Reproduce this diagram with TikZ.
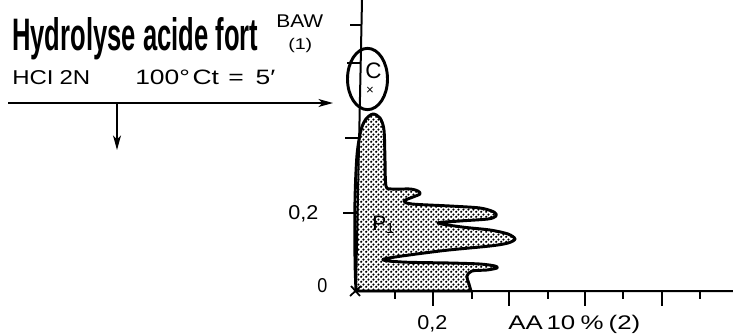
\documentclass[tikz,border=0pt]{standalone}
\usepackage{fontspec}
\setmainfont{Liberation Sans}
\usetikzlibrary{arrows.meta,patterns,shapes.geometric}
\pgfdeclarepatternformonly{blobdots}{\pgfqpoint{0pt}{0pt}}{\pgfqpoint{3.6pt}{3.6pt}}{\pgfqpoint{3.6pt}{3.6pt}}{%
  \pgfpathcircle{\pgfqpoint{0.9pt}{0.9pt}}{0.95pt}%
  \pgfpathcircle{\pgfqpoint{2.7pt}{2.7pt}}{0.95pt}%
  \pgfusepath{fill}}
\tikzset{
  arr/.style={line width=1.1pt,-{Stealth[length=11pt,width=6pt,inset=3pt]}},
  axisline/.style={line width=1.5pt},
  tickline/.style={line width=1.3pt},
  blobline/.style={line width=2.2pt,pattern=blobdots,line join=round},
  lbltext/.style={anchor=base west,inner sep=0pt},
}
\begin{document}
\begin{tikzpicture}[x=0.75pt,y=-0.75pt]
\useasboundingbox (0,0) rectangle (733,336);
% title and labels
\node[lbltext] (title) at (12,50)
  {\resizebox{184.5pt}{24.75pt}{\bfseries Hydrolyse acide fort}};
\node[lbltext] (baw) at (276,27) {\resizebox{35.25pt}{9.5pt}{BAW}};
\node[lbltext] (baw1) at (288,49) {\resizebox{18pt}{8.4pt}{(1)}};
\node[lbltext] (hcl) at (12,84) {\resizebox{58.5pt}{10.5pt}{HCI\hspace{0.25em}2N}};
\node[lbltext] (temp) at (135,84) {\resizebox{105pt}{10.9pt}{100°\hspace{0.1em}Ct\hspace{0.35em}=\hspace{0.45em}5′}};
\node[lbltext] (y02) at (288,219) {\resizebox{22.5pt}{10.5pt}{0,2}};
\node[lbltext] (y0) at (317,292) {\resizebox{7.5pt}{10.5pt}{0}};
\node[lbltext] (x02) at (417,329) {\resizebox{22.5pt}{10.5pt}{0,2}};
\node[lbltext] (xlab) at (508,329) {\resizebox{99pt}{10.7pt}{AA\hspace{0.15em}10\hspace{0.2em}\%\hspace{0.2em}(2)}};
% arrows
\coordinate (a0) at (8,103);
\coordinate (a1) at (333,103);
\coordinate (b0) at (117,103);
\coordinate (b1) at (117,150);
\draw[arr] (a0) -- (a1);
\draw[arr] (b0) -- (b1);
% blob
\draw[blobline] plot[smooth,tension=0.5] coordinates {
 (356,291) (355,260) (355,200) (357,155) (361,130) (366,119) (373,114)
 (380,118) (384,130) (385,160) (386,186)
 (392,189) (410,189) (418,191) (420,194) (413,197) (404,201)
 (412,204) (450,206) (480,208) (494,212) (496,216) (488,219) (460,221) (438,223)
 (462,227) (490,230) (508,234) (515,239) (508,243) (490,246) (440,251) (384,259)
 (402,262) (450,263) (480,264) (495,266) (497,268) (487,270) (472,271)
 (467,276) (469,284) (471,291)} -- cycle;
\node[anchor=base west,inner sep=0pt,font=\fontsize{15.7}{17}\selectfont] (p1) at (372,230) {P\textsubscript{1}};
% axes
\coordinate (O) at (356,291);
\coordinate (ytop) at (362,0);
\coordinate (xend) at (733,291);
\draw[axisline] (ytop) -- (O) -- (xend);
\draw[tickline] (350,296) -- (361,286) (351,286) -- (360,296);
\foreach \yy/\xa/\xb in {25/350/361.5, 63/347/361, 138/345/359.2, 213/343/357.6}
  \draw[tickline] (\xa,\yy) -- (\xb,\yy);
\foreach \xx in {395,472,548,623,700}
  \draw[tickline] (\xx,291) -- (\xx,299);
\foreach \xx in {433,509,585,662}
  \draw[tickline] (\xx,291) -- (\xx,306);
% C ellipse
\node[draw,ellipse,line width=2.2pt,minimum width=30pt,minimum height=46pt,inner sep=0pt] (ellc) at (367.5,79) {};
\node[anchor=base west,inner sep=0pt,font=\fontsize{16.8}{18}\selectfont] (c) at (365,78) {C};
\node[inner sep=0pt,font=\fontsize{10}{11}\selectfont] (cx) at (370,91) {×};
\end{tikzpicture}
\end{document}
